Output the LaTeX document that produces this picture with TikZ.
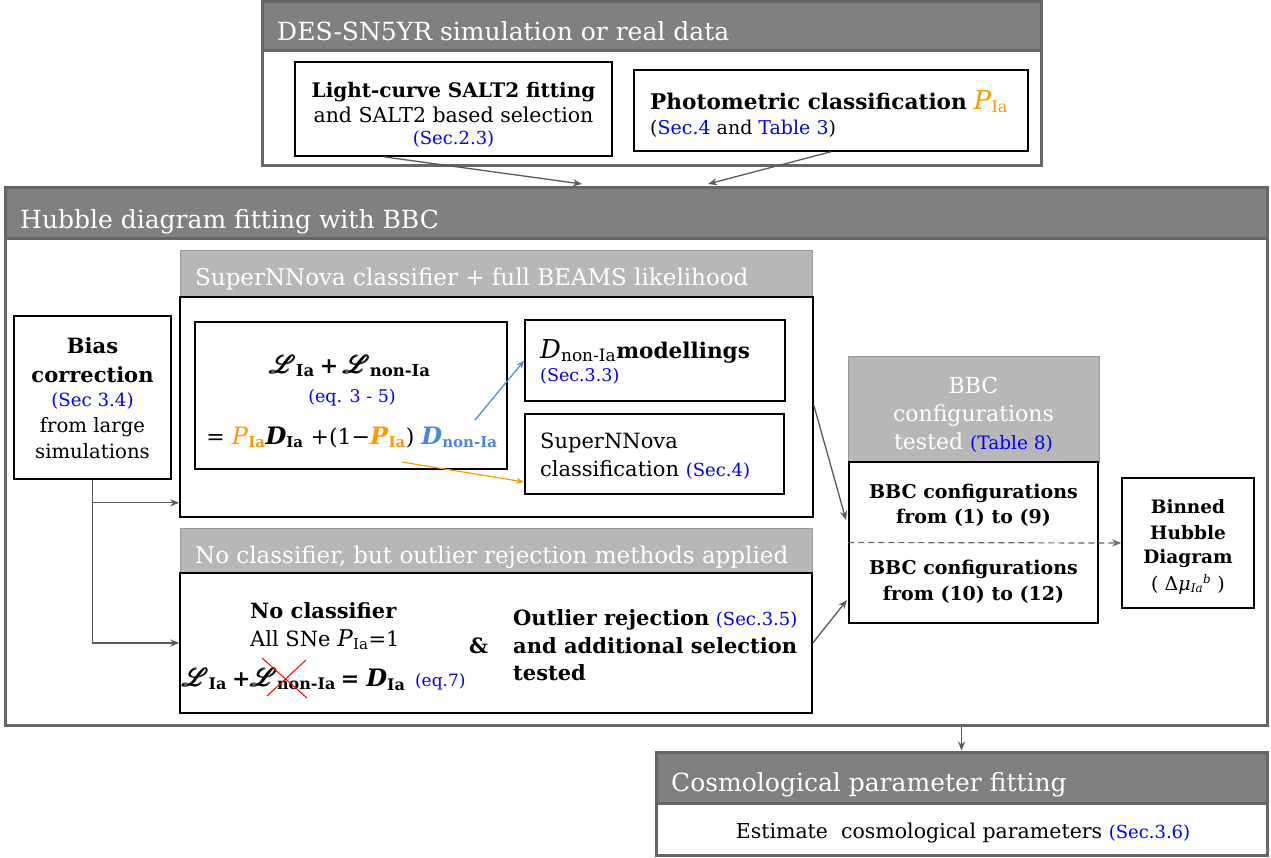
\documentclass[tikz,border=0pt]{standalone}
\usepackage{fontspec}
\usepackage{amsmath}
\usepackage{mathrsfs}
\setmainfont{DejaVu Serif}
\usetikzlibrary{calc,arrows.meta}
\definecolor{hd}{HTML}{808080}
\definecolor{bd}{HTML}{666666}
\definecolor{lh}{HTML}{B7B7B7}
\definecolor{lhb}{HTML}{999999}
\definecolor{secblue}{HTML}{0000FF}
\definecolor{orng}{HTML}{FF9900}
\definecolor{lblue}{HTML}{4A86E8}
\definecolor{arrg}{HTML}{595959}
\newcommand\Ls{\pmb{\mathscr{L}}}
\newcommand\fsz[2]{\fontsize{#1}{#2}\selectfont}
\newcommand\blu[1]{{\color{secblue}#1}}
\newcommand\sbx[2]{\mbox{\fsz{#1}{#1}#2}}
\begin{document}
\begin{tikzpicture}[x=1pt,y=-1pt,
  frame/.style={draw=bd, line width=3pt, inner sep=0pt},
  darkhead/.style={draw=bd, fill=hd, line width=3pt, inner sep=0pt},
  lighthead/.style={draw=lhb, fill=lh, line width=1pt, inner sep=0pt},
  box/.style={draw=black, line width=1.5pt, inner sep=0pt},
  headtxt/.style={anchor=base west, text=white, inner sep=0pt},
  txt/.style={anchor=base west, inner sep=0pt},
  ctxt/.style={anchor=base, inner sep=0pt},
  arr/.style={draw=arrg, line width=1.3pt, -{Stealth[length=9pt,width=7pt]}},
]
\useasboundingbox (0,0) rectangle (1271,857);

% ---------- top frame ----------
\node[frame, minimum width=779pt, minimum height=164pt] (topframe) at (651.5,83) {};
\node[darkhead, minimum width=779pt, minimum height=49pt] (toptitle) at (651.5,25.5) {};
\node[headtxt] (toptxt) at (277,40) {\fsz{25}{28}DES-SN5YR simulation or real data};

\node[box, minimum width=317pt, minimum height=94pt] (lcbox) at (453.5,109) {};
\node[ctxt] (lc1) at (453.5,97) {\fsz{20}{24}\textbf{Light-curve SALT2 fitting}};
\node[ctxt] (lc2) at (453.5,122) {\fsz{20.5}{24}and SALT2 based selection};
\node[ctxt] (lc3) at (453.5,144) {\fsz{18}{22}\blu{(Sec.2.3)}};

\node[box, minimum width=394pt, minimum height=81pt] (phbox) at (831,110.5) {};
\node[txt] (ph1) at (650,109) {\fsz{21.6}{26}\textbf{Photometric classification} {\color{orng}\fsz{26}{28}\textit{P}$_{\sbx{16}{Ia}}$}};
\node[txt] (ph2) at (650,134) {\fsz{19}{22}(\blu{Sec.4} and \blu{Table 3})};

% ---------- Hubble frame ----------
\node[frame, minimum width=1262pt, minimum height=538pt] (hub) at (636,456) {};
\node[darkhead, minimum width=1262pt, minimum height=51pt] (hubtitle) at (636,212.5) {};
\node[headtxt] (hubtxt) at (20,228) {\fsz{25}{28}Hubble diagram fitting with BBC};

\coordinate (h1) at (582,184);
\coordinate (h2) at (708,184);
\draw[arr] ($(lcbox.south west)!0.28!(lcbox.south east)$) -- (h1);
\draw[arr] (phbox.south) -- (h2);

% bias correction
\node[box, minimum width=157pt, minimum height=163pt] (bias) at (92.5,397.5) {};
\node[ctxt] (b1) at (92.5,353) {\fsz{21}{24}\textbf{Bias}};
\node[ctxt] (b2) at (92.5,382) {\fsz{21}{24}\textbf{correction}};
\node[ctxt] (b3) at (92.5,406) {\fsz{18.2}{22}\blu{(Sec 3.4)}};
\node[ctxt] (b4) at (92.5,432) {\fsz{19.7}{24}from large};
\node[ctxt] (b5) at (92.5,458) {\fsz{19.7}{24}simulations};

% SuperNNova block
\node[lighthead, minimum width=632pt, minimum height=47pt] (snhead) at (496,273.5) {};
\node[headtxt] (sntxt) at (195,285) {\fsz{23}{26}SuperNNova classifier + full BEAMS likelihood};
\node[box, minimum width=633pt, minimum height=220pt] (snbody) at (496.5,407) {};

\node[box, minimum width=312pt, minimum height=147pt] (eqbox) at (351,395.5) {};
\node[ctxt] (eq1) at (350,373) {\fsz{30}{34}$\Ls_{\sbx{16.5}{\textbf{Ia}}}$\,{\fsz{22}{26}\textbf{+}}\,$\Ls_{\sbx{16.5}{\textbf{non-Ia}}}$};
\node[ctxt] (eq2) at (352,402) {\fsz{17.5}{20}\blu{(eq. 3 - 5)}};
\node[ctxt] (eq3) at (352,444) {\fsz{22}{28}= {\color{orng}\fsz{24}{28}\textit{P}$_{\sbx{15}{\textbf{Ia}}}$}{\fsz{24}{28}\textbf{\textit{D}}}$_{\sbx{15}{\textbf{Ia}}}$ +(1−{\color{orng}\fsz{24}{28}\textbf{\textit{P}}$_{\sbx{15}{\textbf{Ia}}}$}) {\color{lblue}\fsz{24}{28}\textbf{\textit{D}}$_{\sbx{15}{\textbf{non-Ia}}}$}};

\node[box, minimum width=260pt, minimum height=81pt] (dmod) at (655,360.5) {};
\node[txt] (dmodtxt) at (540,358) {\fsz{26}{28}\textit{D}$_{\sbx{17}{non-Ia}}$\fsz{21.6}{26}\textbf{modellings}};
\node[txt] (dmodsec) at (540,381) {\fsz{17.5}{20}\blu{(Sec.3.3)}};

\node[box, minimum width=259pt, minimum height=80pt] (sncls) at (654.5,454) {};
\node[txt] (sncls1) at (540,448) {\fsz{21}{24}SuperNNova};
\node[txt] (sncls2) at (540,476) {\fsz{21}{24}classification \blu{\fsz{18}{20}(Sec.4)}};

\coordinate (bstart) at (475,420);
\coordinate (ostart) at (402,462);
\draw[draw=lblue, line width=1.2pt, -{Stealth[length=8pt,width=6pt]}] (bstart) -- (dmod.west);
\draw[draw=orng, line width=1.2pt, -{Stealth[length=8pt,width=6pt]}] (ostart) -- ([yshift=-28pt]sncls.west);

% No classifier block
\node[lighthead, minimum width=632pt, minimum height=45pt] (nchead) at (496,550.5) {};
\node[headtxt] (nctxt) at (195,563) {\fsz{23}{26}No classifier, but outlier rejection methods applied};
\node[box, minimum width=632pt, minimum height=140pt] (ncbody) at (496,643) {};

\node[txt] (nc1) at (250,618) {\fsz{21}{24}\textbf{No classifier}};
\node[txt] (nc2) at (250,646) {\fsz{21}{24}All SNe {\fsz{23}{24}\textit{P}}$_{\sbx{15}{Ia}}$=1};
\node[txt] (nc3) at (182,686) {\fsz{30}{34}$\Ls_{\sbx{16}{\textbf{Ia}}}$\,{\fsz{22}{26}\textbf{+}}$\Ls_{\sbx{16}{\textbf{non-Ia}}}$\,{\fsz{22}{28}\textbf{=} {\fsz{24}{28}\textbf{\textit{D}}}$_{\sbx{16}{\textbf{Ia}}}$} \blu{\fsz{17}{20}(eq.7)}};
\draw[red, line width=1pt] (267,696) -- (306,660) (262,658) -- (307,698);
\node[txt] (amp) at (469,653) {\fsz{21}{24}\textbf{\&}};
\node[txt] (ol1) at (513,625) {\fsz{21}{24}\textbf{Outlier rejection} \blu{\fsz{18}{20}(Sec.3.5)}};
\node[txt] (ol2) at (513,653) {\fsz{21}{24}\textbf{and additional selection}};
\node[txt] (ol3) at (513,680) {\fsz{21}{24}\textbf{tested}};

% BBC block
\node[lighthead, minimum width=251pt, minimum height=106pt] (bbchead) at (973.5,409) {};
\node[ctxt, text=white] (bh1) at (973.5,393) {\fsz{22}{26}BBC};
\node[ctxt, text=white] (bh2) at (973.5,421) {\fsz{22}{26}configurations};
\node[ctxt, text=white] (bh3) at (973.5,449) {\fsz{22}{26}tested \blu{\fsz{18.5}{20}(Table 8)}};
\node[box, minimum width=249pt, minimum height=161pt] (bbcbody) at (973.5,542.5) {};
\node[ctxt] (bb1) at (973.5,498) {\fsz{19}{24}\textbf{BBC configurations}};
\node[ctxt] (bb2) at (973.5,523) {\fsz{19}{24}\textbf{from (1) to (9)}};
\node[ctxt] (bb3) at (973.5,574) {\fsz{19}{24}\textbf{BBC configurations}};
\node[ctxt] (bb4) at (973.5,600) {\fsz{19}{24}\textbf{from (10) to (12)}};

\node[box, minimum width=132pt, minimum height=130pt] (binned) at (1188,543) {};
\node[ctxt] (bn1) at (1188,513) {\fsz{18.5}{22}\textbf{Binned}};
\node[ctxt] (bn2) at (1188,539) {\fsz{18.5}{22}\textbf{Hubble}};
\node[ctxt] (bn3) at (1188,563) {\fsz{18.5}{22}\textbf{Diagram}};
\node[ctxt] (bn4) at (1188,590) {\fsz{19}{22}( Δ\textit{μ}$_{\sbx{12}{\textit{Ia}}}{}^{\sbx{12}{\textit{b}}}$ )};

\draw[draw=bd, line width=1.2pt, dash pattern=on 6pt off 4pt, -{Stealth[length=9pt,width=7pt]}] (bbcbody.west) -- (binned.west);

\coordinate (in1) at (846,520);
\coordinate (in2) at (847,600);
\draw[arr] ([yshift=2pt]snbody.east) -- (in1);
\draw[arr] (ncbody.east) -- (in2);

% bias connectors
\draw[arr] (bias.south) |- ([yshift=15pt]snbody.south west);
\draw[arr] (bias.south) |- (ncbody.west);

% ---------- Cosmology ----------
\node[frame, minimum width=611pt, minimum height=103pt] (cosmo) at (961.5,803.5) {};
\node[darkhead, minimum width=611pt, minimum height=51pt] (cosmohead) at (961.5,777.5) {};
\node[headtxt] (cosmotxt) at (671,791) {\fsz{25}{28}Cosmological parameter fitting};
\node[ctxt] (cosmobody) at (963,838) {\fsz{20.5}{24}Estimate\ \ cosmological parameters \blu{\fsz{18}{20}(Sec.3.6)}};

\draw[arr] (cosmo.north |- hub.south) -- (cosmo.north);
\end{tikzpicture}
\end{document}
